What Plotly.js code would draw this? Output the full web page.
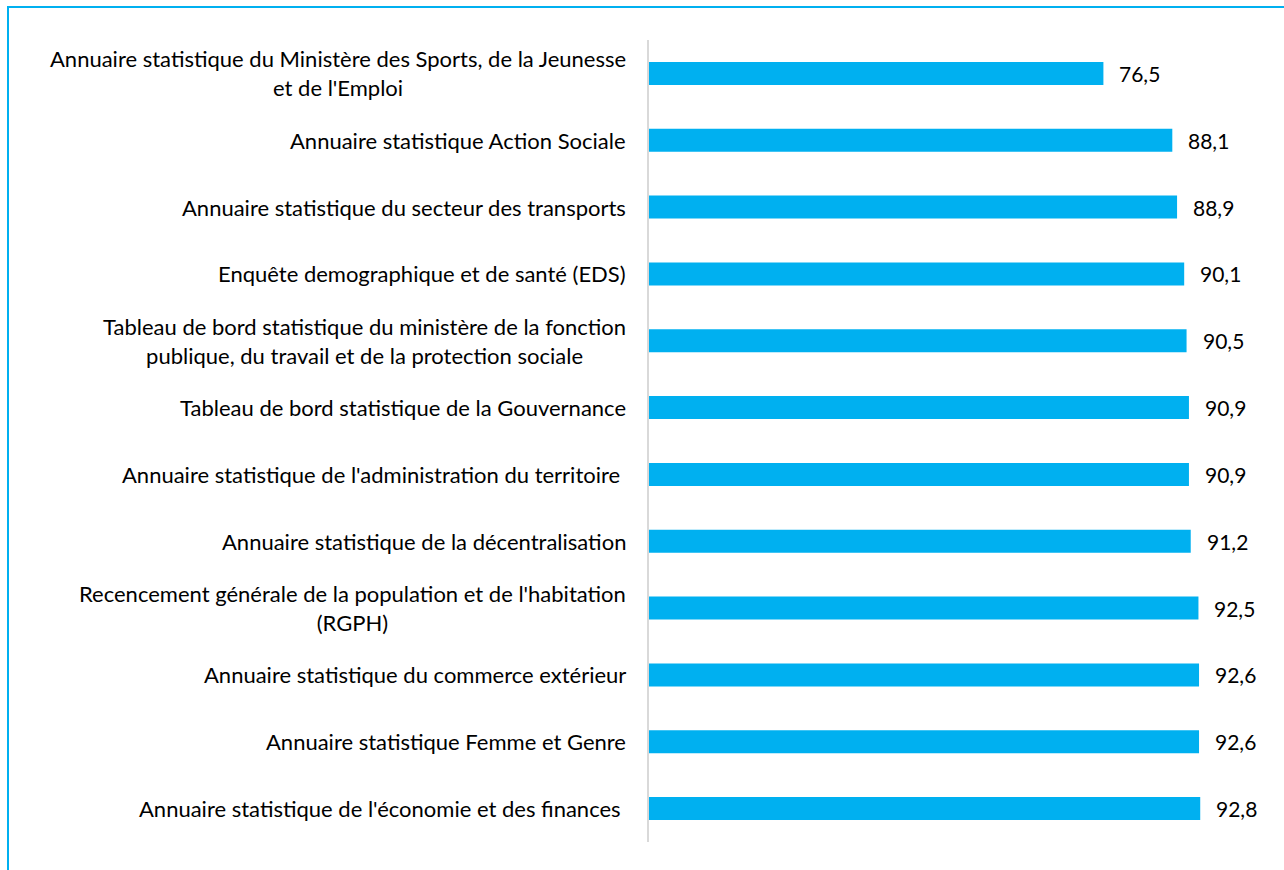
<!DOCTYPE html>
<html>
<head>
<meta charset="utf-8">
<script src="https://cdn.plot.ly/plotly-3.0.1.min.js"></script>
<style>
html,body{margin:0;padding:0;background:#fff;overflow:hidden;}
#chart{position:absolute;left:0;top:0;width:1284px;height:870px;}
#frame{position:absolute;left:7px;top:6px;width:1290px;height:880px;border-top:2px solid #00B0F0;border-left:2px solid #00B0F0;pointer-events:none;}
</style>
</head>
<body>
<div id="chart"></div>
<div id="frame"></div>
<script>
const categories = [
  "Annuaire statistique du Ministère des Sports, de la Jeunesse<br>et de l'Emploi",
  "Annuaire statistique Action Sociale",
  "Annuaire statistique du secteur des transports",
  "Enquête demographique et de santé (EDS)",
  "Tableau de bord statistique du ministère de la fonction<br>publique, du travail et de la protection sociale",
  "Tableau de bord statistique de la Gouvernance",
  "Annuaire statistique de l'administration du territoire\u00a0",
  "Annuaire statistique de la décentralisation",
  "Recencement générale de la population et de l'habitation<br>(RGPH)",
  "Annuaire statistique du commerce extérieur",
  "Annuaire statistique Femme et Genre",
  "Annuaire statistique de l'économie et des finances\u00a0"
];
const values = [76.5, 88.1, 88.9, 90.1, 90.5, 90.9, 90.9, 91.2, 92.5, 92.6, 92.6, 92.8];
const valueLabels = ["76,5","88,1","88,9","90,1","90,5","90,9","90,9","91,2","92,5","92,6","92,6","92,8"];

const FONT = "Lato, Carlito, Calibri, sans-serif";
const ids = categories.map((c,i)=>"c"+i);

const trace = {
  type: 'bar',
  orientation: 'h',
  x: values,
  y: ids,
  marker: {color: '#00B0F0', line: {width: 0}},
  hoverinfo: 'none'
};

const annotations = [];
categories.forEach((c,i)=>{
  annotations.push({
    xref:'paper', yref:'y', x:0, y:ids[i], xanchor:'right', yanchor:'middle',
    xshift:-21, text:c, showarrow:false, align:'center',
    font:{family:FONT, size:22, color:'#000'}
  });
  annotations.push({
    xref:'x', yref:'y', x:values[i], y:ids[i], xanchor:'left', yanchor:'middle',
    xshift:14, text:valueLabels[i], showarrow:false,
    font:{family:FONT, size:21, color:'#000'}
  });
});

const layout = {
  width:1284, height:870,
  margin:{l:649, r:41, t:40, b:28, pad:0},
  paper_bgcolor:'#fff', plot_bgcolor:'#fff',
  showlegend:false,
  bargap:0.655,
  xaxis:{range:[0,100], showgrid:false, zeroline:false, showticklabels:false, ticks:'', showline:false, fixedrange:true},
  yaxis:{type:'category', autorange:'reversed', showticklabels:false, ticks:'', showgrid:false, zeroline:false,
         showline:true, linecolor:'#D9D9D9', linewidth:2, fixedrange:true},
  annotations:annotations,
  font:{family:FONT}
};

Plotly.newPlot('chart',[trace],layout,{displayModeBar:false, staticPlot:true});
</script>
</body>
</html>
